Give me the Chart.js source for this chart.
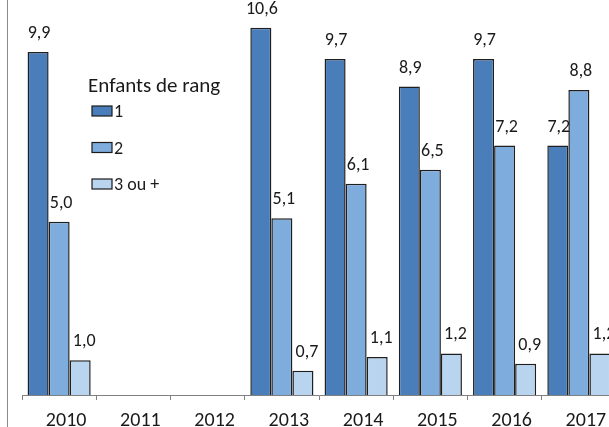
<!DOCTYPE html>
<html>
<head>
<meta charset="utf-8">
<script src="https://cdn.jsdelivr.net/npm/chart.js@4/dist/chart.umd.min.js"></script>
<style>
html,body{margin:0;padding:0;overflow:hidden;background:#fff;}
#wrap{position:relative;width:640px;height:427px;}
</style>
</head>
<body>
<div id="wrap"><canvas id="c"></canvas></div>
<script>
const categories = ['2010','2011','2012','2013','2014','2015','2016','2017'];
const rang1 = [9.9, null, null, 10.6, 9.7, 8.9, 9.7, 7.2];
const rang2 = [5.0, null, null, 5.1, 6.1, 6.5, 7.2, 8.8];
const rang3 = [1.0, null, null, 0.7, 1.1, 1.2, 0.9, 1.2];
const seriesNames = ['1', '2', '3 ou +'];
const legendTitle = 'Enfants de rang';

const FONT = "Carlito, Lato, 'Open Sans', sans-serif";
const colors = ['#4a7ebb', '#7eacdc', '#b9d4ef'];
const labelShift = [1, 2, 4];

const labelPlugin = {
  id: 'valueLabels',
  afterDatasetsDraw(chart) {
    const ctx = chart.ctx;
    ctx.save();
    ctx.font = "18px " + FONT;
    ctx.fillStyle = '#1a1a1a';
    ctx.textAlign = 'center';
    ctx.textBaseline = 'alphabetic';
    chart.data.datasets.forEach((ds, i) => {
      const meta = chart.getDatasetMeta(i);
      meta.data.forEach((bar, j) => {
        const v = ds.data[j];
        if (v === null || v === undefined) return;
        ctx.fillText(v.toFixed(1).replace('.', ','), bar.x + labelShift[i], bar.y - 14);
      });
    });
    ctx.restore();
  }
};

const legendPlugin = {
  id: 'customLegend',
  afterDraw(chart) {
    const ctx = chart.ctx;
    ctx.save();
    ctx.fillStyle = '#1a1a1a';
    ctx.textBaseline = 'alphabetic';
    ctx.textAlign = 'left';
    ctx.font = "21px " + FONT;
    ctx.fillText(legendTitle, 88, 92);
    ctx.font = "18px " + FONT;
    chart.data.datasets.forEach((ds, i) => {
      const y = 111 + i * 36.5;
      ctx.fillStyle = ds.backgroundColor;
      ctx.fillRect(92, y - 5, 20, 10);
      ctx.strokeStyle = '#1a1a1a';
      ctx.lineWidth = 1.2;
      ctx.strokeRect(92, y - 5, 20, 10);
      ctx.fillStyle = '#1a1a1a';
      ctx.fillText(ds.label, 114, y + 6);
    });
    ctx.restore();
  }
};

const framePlugin = {
  id: 'frameLine',
  afterDraw(chart) {
    const ctx = chart.ctx;
    ctx.save();
    ctx.strokeStyle = '#8c8c8c';
    ctx.lineWidth = 1;
    ctx.beginPath();
    ctx.moveTo(7.5, 0);
    ctx.lineTo(7.5, chart.height);
    ctx.stroke();
    ctx.restore();
  }
};

const seriesData = [rang1, rang2, rang3];
new Chart(document.getElementById('c'), {
  type: 'bar',
  data: {
    labels: categories,
    datasets: seriesData.map((d, i) => ({
      label: seriesNames[i],
      data: d,
      backgroundColor: colors[i],
      borderColor: '#1f1f1f',
      borderWidth: 1.5,
      categoryPercentage: 0.85,
      barPercentage: 1.0
    }))
  },
  options: {
    responsive: true,
    maintainAspectRatio: false,
    animation: false,
    layout: { padding: { left: 22, right: 24, top: 0, bottom: 0 } },
    plugins: { legend: { display: false }, tooltip: { enabled: false } },
    scales: {
      x: {
        offset: true,
        grid: { display: true, offset: true, drawOnChartArea: false, drawTicks: true, tickLength: 5, color: '#808080' },
        border: { display: true, color: '#808080', width: 1 },
        ticks: { color: '#1a1a1a', font: { family: FONT, size: 20 }, padding: 9, labelOffset: 7, maxRotation: 0 },
        afterFit(scale) { scale.height = 32; }
      },
      y: {
        display: false,
        min: 0,
        max: 11.4
      }
    }
  },
  plugins: [labelPlugin, legendPlugin, framePlugin]
});
</script>
</body>
</html>
